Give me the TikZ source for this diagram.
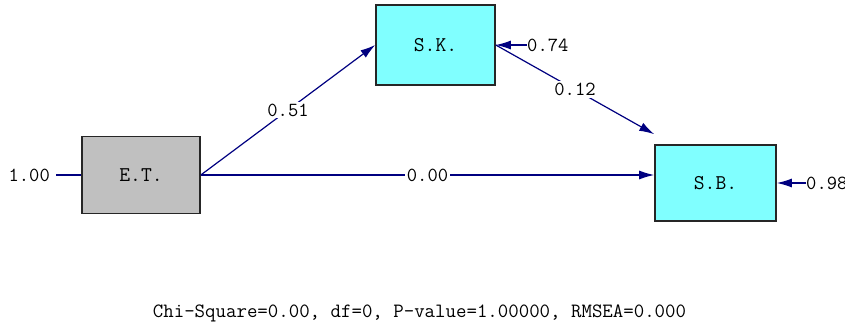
\documentclass[tikz,border=0pt]{standalone}
\usepackage{tikz}
\usetikzlibrary{arrows.meta}

\definecolor{pathblue}{HTML}{000080}
\definecolor{latentcyan}{HTML}{80FFFF}
\definecolor{exogray}{HTML}{C0C0C0}

\begin{document}
\begin{tikzpicture}[x=1pt, y=-1pt,
        varbox/.style={draw=black!85, line width=1.6pt, minimum width=118pt,
                       minimum height=77pt, inner sep=0pt,
                       font=\ttfamily\fontsize{21}{24}\selectfont},
        effect/.style={draw=pathblue, line width=1.2pt,
                       -{Latex[length=15pt, width=9pt]}},
        coef/.style={fill=white, inner sep=2pt,
                     font=\ttfamily\fontsize{20}{22}\selectfont}]

                \useasboundingbox (0, 0) rectangle (845, 329);

                \node[varbox, fill=exogray] (ET) at (141, 175) {E.T.};
                \node[varbox, fill=latentcyan, minimum width=119pt, minimum height=80pt] (SK) at (435.5, 45) {S.K.};
                \node[varbox, fill=latentcyan, minimum width=121pt, minimum height=76pt] (SB) at (715.5, 183) {S.B.};

                \node[coef, anchor=east] (ETvar) at (52, 175) {1.00};
                \draw[pathblue, line width=1.2pt] (ETvar.east) ++(4, 0) -- (ET.west);

                \coordinate (SKerr) at (527, 45);
                \node[coef, anchor=west, inner sep=0pt] (SKerrlab) at (SKerr) {0.74};
                \draw[effect] (SKerr) -- (SK.east);

                \coordinate (SBerr) at (806, 183);
                \node[coef, anchor=west, inner sep=0pt] (SBerrlab) at (SBerr) {0.98};
                \draw[effect] (SBerr) -- (SB.east);

                \draw[effect] (ET.east) -- node[coef, midway] {0.51} (SK.west);
                \draw[effect] (ET.east) -- node[coef, midway] {0.00} (SB.west |- ET.east);
                \draw[effect] (SK.east) -- node[coef, midway] {0.12} ([yshift=10pt]SB.north west);

                \node[font=\ttfamily\fontsize{20.3}{22}\selectfont] (fit) at (419.5, 313)
                    {Chi-Square=0.00, df=0, P-value=1.00000, RMSEA=0.000};
            \end{tikzpicture}
\end{document}
